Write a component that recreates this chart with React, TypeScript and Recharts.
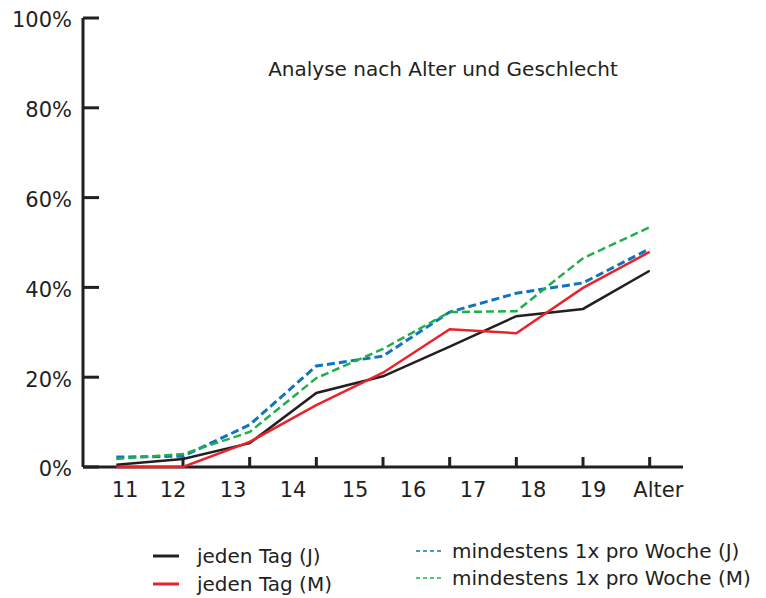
import React from 'react';
import { LineChart, Line, XAxis, YAxis, Legend } from 'recharts';

const ages = [11, 12, 13, 14, 15, 16, 17, 18, 19];
const jedenTagJ = [0.5, 1.8, 5.3, 16.5, 20.2, 26.8, 33.6, 35.2, 43.7];
const jedenTagM = [0, 0, 5.6, 13.8, 21.0, 30.7, 29.8, 39.9, 47.9];
const wocheJ = [2.2, 2.4, 9.4, 22.5, 24.7, 34.5, 38.7, 41.0, 48.6];
const wocheM = [1.8, 2.9, 7.8, 19.8, 26.3, 34.5, 34.7, 46.5, 53.4];

const yTicks = [0, 20, 40, 60, 80, 100];
const xTickMarks = [12, 13, 14, 15, 16, 17, 18, 19];
const xLabels = ['11', '12', '13', '14', '15', '16', '17', '18', '19', 'Alter'];
const xLabelPos = [11.13, 11.85, 12.75, 13.65, 14.58, 15.45, 16.35, 17.25, 18.15, 19.13];

const seriesNames = [
  'jeden Tag (J)',
  'jeden Tag (M)',
  'mindestens 1x pro Woche (J)',
  'mindestens 1x pro Woche (M)',
];

const data = ages.map((a, i) => ({
  age: a,
  jJ: jedenTagJ[i],
  jM: jedenTagM[i],
  wJ: wocheJ[i],
  wM: wocheM[i],
}));

const FONT = '"DejaVu Sans", sans-serif';
const AXIS = '#231f20';

const LegendContent = (props: any) => {
  const payload = props.payload || [];
  const byName: Record<string, any> = {};
  payload.forEach((p: any) => (byName[p.value] = p));
  const item = (name: string, left: number, top: number, dashed: boolean) => {
    const p = byName[name];
    if (!p) return null;
    return (
      <div key={name} style={{ position: 'absolute', left, top, display: 'flex', alignItems: 'center', whiteSpace: 'nowrap' }}>
        <svg width={dashed ? 36 : 44} height={10} style={{ display: 'block' }}>
          <line x1={0} x2={26} y1={5} y2={5} stroke={p.color} strokeWidth={dashed ? 1.5 : 3} strokeDasharray={dashed ? '4 3' : undefined} />
        </svg>
        <span style={{ fontFamily: FONT, fontSize: 20, color: AXIS, lineHeight: '24px' }}>{name}</span>
      </div>
    );
  };
  return (
    <div style={{ position: 'relative', width: 766, height: 70 }}>
      {item(seriesNames[0], 153, 16, false)}
      {item(seriesNames[1], 153, 44, false)}
      {item(seriesNames[2], 416, 11, true)}
      {item(seriesNames[3], 416, 38, true)}
    </div>
  );
};

export default function App() {
  return (
    <div style={{ position: 'absolute', left: 0, top: 0, width: 766, height: 598, background: '#fff' }}>
      <LineChart width={766} height={598} data={data} margin={{ top: 18, right: 83, bottom: 0, left: 0 }}>
        <text x={443} y={76} textAnchor="middle" fontFamily={FONT} fontSize={20} fill={AXIS}>
          Analyse nach Alter und Geschlecht
        </text>
        <YAxis
          type="number"
          domain={[0, 100]}
          ticks={yTicks}
          width={83}
          tickSize={-16}
          tickMargin={27}
          tickFormatter={(v: number) => `${v}%`}
          axisLine={{ stroke: AXIS, strokeWidth: 3 }}
          tickLine={{ stroke: AXIS, strokeWidth: 3 }}
          tick={{ fontFamily: FONT, fontSize: 21, fill: AXIS, dy: 2 }}
        />
        <XAxis
          xAxisId="a"
          dataKey="age"
          type="number"
          domain={[10.5, 19.5]}
          ticks={xTickMarks}
          height={1}
          tickSize={-10}
          axisLine={{ stroke: AXIS, strokeWidth: 3 }}
          tickLine={{ stroke: AXIS, strokeWidth: 3 }}
          tick={() => <g />}
          zIndex={0}
        />
        <XAxis
          xAxisId="b"
          dataKey="age"
          type="number"
          domain={[10.5, 19.5]}
          ticks={xLabelPos}
          height={130}
          tickSize={0}
          tickMargin={14}
          axisLine={false}
          tickLine={false}
          interval={0}
          tickFormatter={(_v: number, i: number) => xLabels[i]}
          tick={{ fontFamily: FONT, fontSize: 21, fill: AXIS }}
        />
        <Legend
          layout="vertical"
          align="center"
          verticalAlign="middle"
          wrapperStyle={{ left: 0, top: 528, width: 766, height: 70 }}
          content={<LegendContent />}
        />
        <Line xAxisId="a" dataKey="jJ" name={seriesNames[0]} stroke="#231f20" strokeWidth={2.5} dot={false} isAnimationActive={false} zIndex={600} />
        <Line xAxisId="a" dataKey="jM" name={seriesNames[1]} stroke="#e8232b" strokeWidth={2.5} dot={false} isAnimationActive={false} zIndex={600} />
        <Line xAxisId="a" dataKey="wJ" name={seriesNames[2]} stroke="#1174bd" strokeWidth={3} strokeDasharray="8 4" dot={false} isAnimationActive={false} zIndex={600} />
        <Line xAxisId="a" dataKey="wM" name={seriesNames[3]} stroke="#1fb04b" strokeWidth={2.5} strokeDasharray="8 4" dot={false} isAnimationActive={false} zIndex={600} />
      </LineChart>
    </div>
  );
}
